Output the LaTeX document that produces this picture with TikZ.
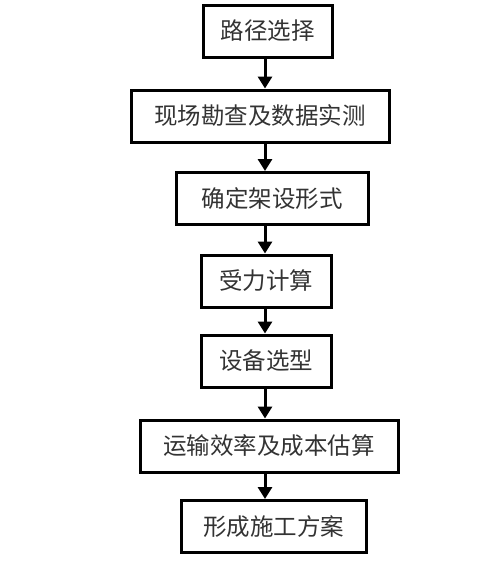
\documentclass[tikz,border=0pt]{standalone}
\usepackage{fontspec}
\newfontfamily\cjk{Noto Sans CJK SC}
\usetikzlibrary{arrows.meta}

\tikzset{
  stepbox/.style={draw=black, line width=3pt, minimum height=52pt,
    inner sep=0pt, font=\cjk\fontsize{23.5}{23.5}\selectfont, text=black!80},
  flowarrow/.style={line width=3pt, -{Triangle[width=14pt,length=12pt]}}
}

\begin{document}
\begin{tikzpicture}[x=1pt,y=-1pt]
    \useasboundingbox (0,0) rectangle (478,563);
    \node[stepbox, minimum width=129pt] (route) at (267.5,31) {路径选择};
    \node[stepbox, minimum width=258pt] (survey) at (260,116) {现场勘查及数据实测};
    \node[stepbox, minimum width=192pt] (form) at (272,198.5) {确定架设形式};
    \node[stepbox, minimum width=130pt] (force) at (266,281) {受力计算};
    \node[stepbox, minimum width=130pt] (equip) at (266,361) {设备选型};
    \node[stepbox, minimum width=258pt] (cost) at (269,446) {运输效率及成本估算};
    \node[stepbox, minimum width=185pt] (plan) at (273.5,526.5) {形成施工方案};
    \coordinate (axis) at (265,0);
    \draw[flowarrow] (axis |- route.south) -- (axis |- survey.north);
    \draw[flowarrow] (axis |- survey.south) -- (axis |- form.north);
    \draw[flowarrow] (axis |- form.south) -- (axis |- force.north);
    \draw[flowarrow] (axis |- force.south) -- (axis |- equip.north);
    \draw[flowarrow] (axis |- equip.south) -- (axis |- cost.north);
    \draw[flowarrow] (axis |- cost.south) -- (axis |- plan.north);
\end{tikzpicture}
\end{document}
